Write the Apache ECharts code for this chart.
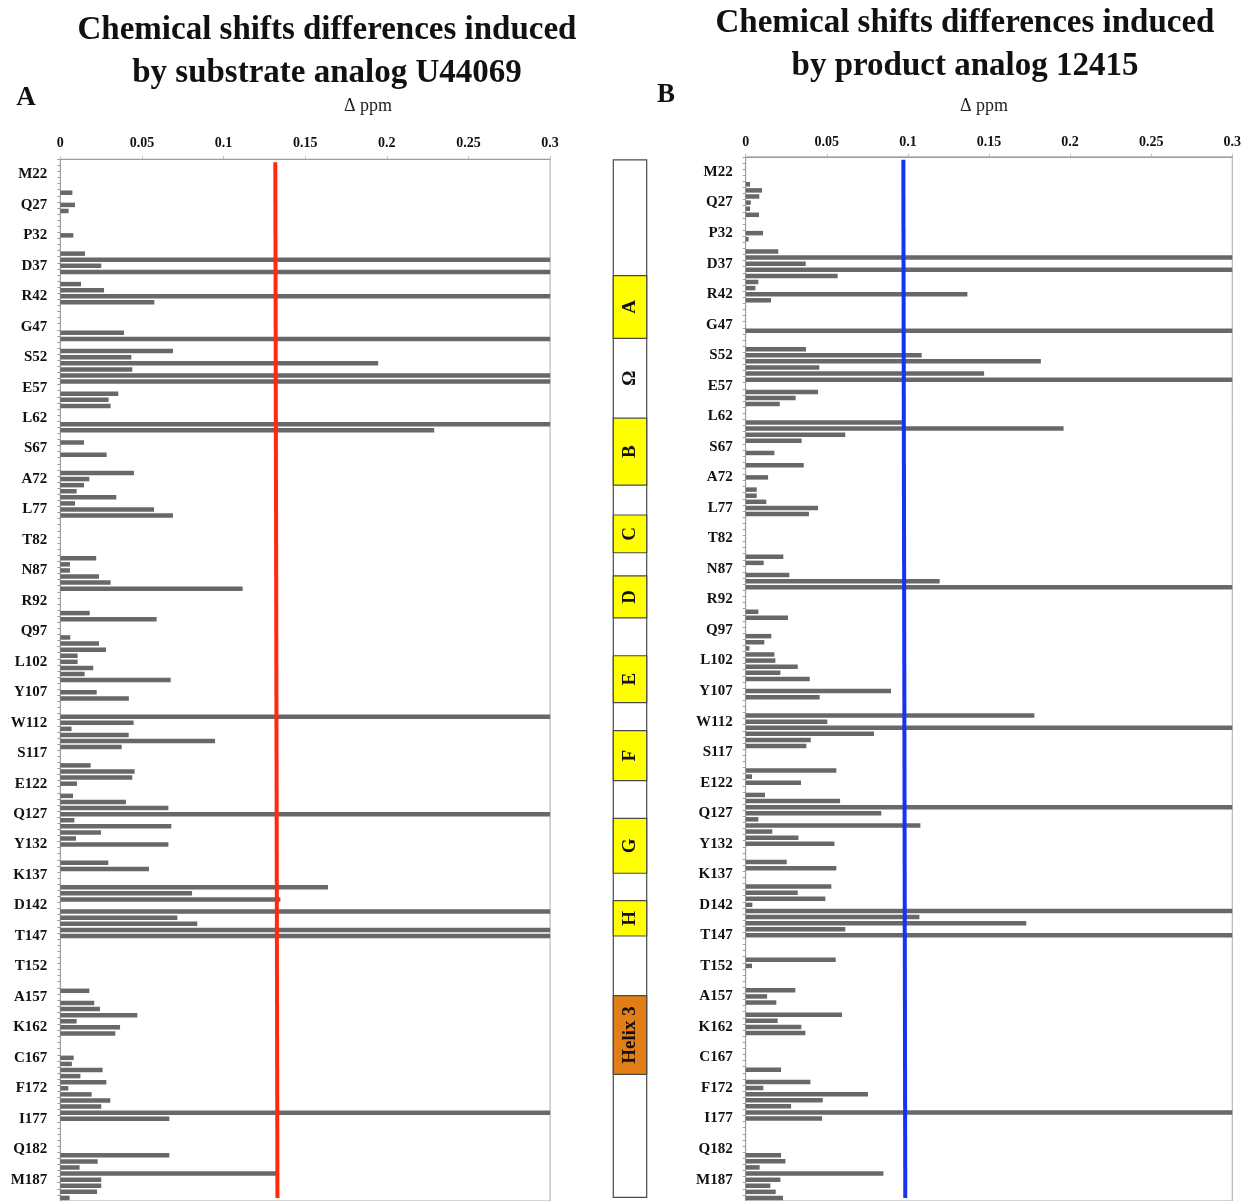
<!DOCTYPE html>
<html>
<head>
<meta charset="utf-8">
<script src="https://cdn.jsdelivr.net/npm/echarts@6/dist/echarts.min.js"></script>
<style>html,body{margin:0;padding:0;background:#fff;}#c{width:1244px;height:1201px;}</style>
</head>
<body>
<div id="c"></div>
<script>
// ---- categories (residue numbers shown on the y axes) ----
const firstResidue = 20;
const lastResidue = 190;
const residueTickLabels = ['M22','Q27','P32','D37','R42','G47','S52','E57','L62','S67','A72','L77','T82','N87','R92','Q97','L102','Y107','W112','S117','E122','Q127','Y132','K137','D142','T147','T152','A157','K162','C167','F172','I177','Q182','M187'];
const xTickLabels = ['0','0.05','0.1','0.15','0.2','0.25','0.3'];

// ---- panel A: substrate analog U44069 (residue, Δppm); 0.3 = bar reaches the axis end ----
const residuesA = [25,27,28,32,35,36,37,38,40,41,42,43,48,49,51,52,53,54,55,56,58,59,60,63,64,66,68,71,72,73,74,75,76,77,78,85,86,87,88,89,90,94,95,98,99,100,101,102,103,104,105,107,108,111,112,113,114,115,116,119,120,121,122,124,125,126,127,128,129,130,131,132,135,136,139,140,141,143,144,145,146,147,156,158,159,160,161,162,163,167,168,169,170,171,172,173,174,175,176,177,183,184,185,186,187,188,189,190];
const shiftsA = [0.0074,0.009,0.0051,0.008,0.0151,0.3,0.0251,0.3,0.0127,0.0268,0.3,0.0576,0.039,0.3,0.069,0.0435,0.1947,0.0441,0.3,0.3,0.0355,0.0296,0.0308,0.3,0.229,0.0145,0.0284,0.0451,0.0178,0.0145,0.010,0.0343,0.009,0.0574,0.069,0.022,0.0059,0.0059,0.0237,0.0308,0.1117,0.018,0.059,0.0061,0.0237,0.028,0.0106,0.0106,0.0202,0.0149,0.0676,0.0223,0.042,0.3,0.0449,0.0069,0.0419,0.0948,0.0376,0.0186,0.0455,0.0441,0.0102,0.0078,0.0402,0.0662,0.3,0.0086,0.068,0.0249,0.0096,0.0662,0.0294,0.0543,0.164,0.0807,0.1348,0.3,0.0717,0.0839,0.3,0.3,0.0178,0.0208,0.0243,0.0472,0.01,0.0366,0.0337,0.0082,0.0071,0.0259,0.0123,0.0282,0.0049,0.0192,0.0306,0.0251,0.3,0.0668,0.0668,0.0229,0.0118,0.1326,0.0251,0.0251,0.0225,0.0057];
const thresholdA = [0.1317, 0.1330];

// ---- panel B: product analog 12415 ----
const residuesB = [24,25,26,27,28,29,32,33,35,36,37,38,39,40,41,42,43,48,51,52,53,54,55,56,58,59,60,63,64,65,66,68,70,72,74,75,76,77,78,85,86,88,89,90,94,95,98,99,100,101,102,103,104,105,107,108,111,112,113,114,115,116,120,121,122,124,125,126,127,128,129,130,131,132,135,136,139,140,141,142,143,144,145,146,147,151,152,156,157,158,160,161,162,163,169,171,172,173,174,175,176,177,183,184,185,186,187,188,189,190];
const shiftsB = [0.0027,0.0101,0.0084,0.0031,0.0027,0.0082,0.0107,0.0018,0.0201,0.3,0.037,0.3,0.0567,0.0078,0.006,0.1367,0.0156,0.3,0.0372,0.1085,0.182,0.0454,0.147,0.3,0.0446,0.0308,0.021,0.0966,0.196,0.0614,0.0345,0.0177,0.0358,0.0138,0.0068,0.0068,0.0127,0.0446,0.039,0.0232,0.0111,0.0269,0.1196,0.3,0.0078,0.0261,0.0158,0.0115,0.0023,0.0177,0.0183,0.0321,0.0214,0.0395,0.0896,0.0456,0.178,0.0503,0.3,0.0791,0.0401,0.0374,0.0559,0.0039,0.0341,0.0119,0.0582,0.3,0.0836,0.0078,0.1077,0.0164,0.0325,0.0547,0.0253,0.0559,0.0528,0.0321,0.0491,0.0041,0.3,0.1071,0.173,0.0614,0.3,0.0555,0.0039,0.0306,0.0132,0.0189,0.0594,0.0197,0.0343,0.0368,0.0218,0.0399,0.0109,0.0754,0.0475,0.028,0.3,0.0471,0.0218,0.0245,0.0086,0.0849,0.0214,0.0152,0.0185,0.023];
const thresholdB = [0.0972, 0.0984];

// ---- secondary structure strip (residue ranges) ----
const structFrame = [19.6, 189.9];
const structNames = ['A','Ω','B','C','D','E','F','G','H','Helix 3'];
const structStart = [38.6, 48.9, 62.0, 77.9, 87.9, 101.0, 113.3, 127.7, 141.2, 156.8];
const structEnd   = [48.9, 62.0, 73.0, 84.1, 94.8, 108.7, 121.5, 136.7, 147.0, 169.7];
const structKind  = ['strand','loop','strand','strand','strand','strand','strand','strand','strand','helix'];

// ---- build ----
const categories = [];
for (let r = firstResidue; r <= lastResidue; r++) categories.push(String(r));
const labelOf = {};
residueTickLabels.forEach(l => { labelOf[l.replace(/^[A-Z]/, '')] = l; });
function fullSeries(res, vals) {
  const out = categories.map(() => null);
  res.forEach((r, i) => { out[r - firstResidue] = vals[i]; });
  return out;
}
const SERIF = '"Liberation Serif","Times New Roman",serif';
const kindColor = { strand: '#FFFF00', helix: '#E37E17', loop: 'transparent' };

function yAxisFor(gridIndex) {
  return {
    type: 'category', gridIndex, data: categories, inverse: true,
    axisLine: { show: true, lineStyle: { color: '#9d9d9d', width: 1 } },
    axisTick: { show: true, interval: 0, length: 3, lineStyle: { color: '#9d9d9d' } },
    axisLabel: {
      interval: (i, v) => labelOf[v] !== undefined,
      formatter: v => labelOf[v] || '',
      fontFamily: SERIF, fontWeight: 'bold', fontSize: 15, color: '#111',
      margin: 13, padding: [0, 0, 6, 0]
    },
    splitLine: { show: false }
  };
}
function xAxisFor(gridIndex, margin) {
  return {
    type: 'value', gridIndex, position: 'top', min: 0, max: 0.3, interval: 0.05,
    axisLine: { show: true, lineStyle: { color: '#9d9d9d' } },
    axisTick: { show: true, length: 3, lineStyle: { color: '#bdbdbd' } },
    axisLabel: {
      formatter: v => xTickLabels[Math.round(v / 0.05)],
      fontFamily: SERIF, fontWeight: 'bold', fontSize: 14, color: '#111', margin
    },
    splitLine: { show: false }
  };
}
function barSeries(idx, res, vals, thr, lineColor) {
  return {
    type: 'bar', xAxisIndex: idx, yAxisIndex: idx, data: fullSeries(res, vals),
    barWidth: 4.5, clip: true,
    itemStyle: { color: '#686868' },
    markLine: {
      silent: true, symbol: 'none', label: { show: false },
      lineStyle: { color: lineColor, width: 4, type: 'solid' },
      data: [[{ coord: [thr[0], categories[0]] }, { coord: [thr[1], categories[categories.length - 1]] }]]
    }
  };
}

const structData = [[ 'frame', structFrame[0], structFrame[1], 'frame' ]];
structNames.forEach((n, i) => structData.push([n, structStart[i], structEnd[i], structKind[i]]));

const chart = echarts.init(document.getElementById('c'), null, { renderer: 'canvas' });
chart.setOption({
  animation: false,
  backgroundColor: '#fff',
  grid: [
    { left: 60.3, top: 159.2, width: 489.8, height: 1044.8, show: true, borderColor: '#a8a8a8', borderWidth: 1 },
    { left: 745.7, top: 156.8, width: 486.6, height: 1044.8, show: true, borderColor: '#a8a8a8', borderWidth: 1 },
    { left: 613.3, top: 159.2, width: 33.4, height: 1044.8 }
  ],
  xAxis: [
    xAxisFor(0, 9),
    xAxisFor(1, 7),
    { type: 'value', gridIndex: 2, min: 0, max: 1, show: false }
  ],
  yAxis: [
    yAxisFor(0),
    yAxisFor(1),
    { type: 'value', gridIndex: 2, min: firstResidue - 0.5, max: lastResidue + 0.5, inverse: true, show: false }
  ],
  series: [
    barSeries(0, residuesA, shiftsA, thresholdA, '#FF2A0C'),
    barSeries(1, residuesB, shiftsB, thresholdB, '#1533F2'),
    {
      type: 'custom', xAxisIndex: 2, yAxisIndex: 2, data: structData,
      encode: { y: [1, 2] },
      renderItem: function (params, api) {
        const kind = structData[params.dataIndex][3];
        const name = structData[params.dataIndex][0];
        const p0 = api.coord([0, api.value(1)]);
        const p1 = api.coord([1, api.value(2)]);
        const rect = { type: 'rect', shape: { x: p0[0], y: p0[1], width: p1[0] - p0[0], height: p1[1] - p0[1] } };
        if (kind === 'frame') {
          rect.style = { fill: '#fff', stroke: '#4a4a4a', lineWidth: 1.2 };
          return rect;
        }
        rect.style = kind === 'loop' ? { fill: 'transparent', stroke: null } : { fill: kindColor[kind], stroke: '#4a4a4a', lineWidth: 1.2 };
        return {
          type: 'group', children: [
            rect,
            { type: 'text', x: (p0[0] + p1[0]) / 2, y: (p0[1] + p1[1]) / 2, rotation: Math.PI / 2,
              style: { text: name, align: 'center', verticalAlign: 'middle', fill: '#111',
                       font: 'bold 19px ' + SERIF } }
          ]
        };
      }
    }
  ],
  graphic: [
    { type: 'text', x: 327, y: 52, style: { text: 'Chemical shifts differences induced\nby substrate analog U44069', align: 'center', verticalAlign: 'middle', lineHeight: 43, font: 'bold 33px ' + SERIF, fill: '#111' } },
    { type: 'text', x: 965, y: 45, style: { text: 'Chemical shifts differences induced\nby product analog 12415', align: 'center', verticalAlign: 'middle', lineHeight: 43, font: 'bold 33px ' + SERIF, fill: '#111' } },
    { type: 'text', x: 26, y: 98, style: { text: 'A', align: 'center', verticalAlign: 'middle', font: 'bold 27px ' + SERIF, fill: '#111' } },
    { type: 'text', x: 666, y: 95, style: { text: 'B', align: 'center', verticalAlign: 'middle', font: 'bold 27px ' + SERIF, fill: '#111' } },
    { type: 'text', x: 368, y: 106, style: { text: 'Δ ppm', align: 'center', verticalAlign: 'middle', font: '18px ' + SERIF, fill: '#222' } },
    { type: 'text', x: 984, y: 106, style: { text: 'Δ ppm', align: 'center', verticalAlign: 'middle', font: '18px ' + SERIF, fill: '#222' } }
  ]
});
</script>
</body>
</html>
